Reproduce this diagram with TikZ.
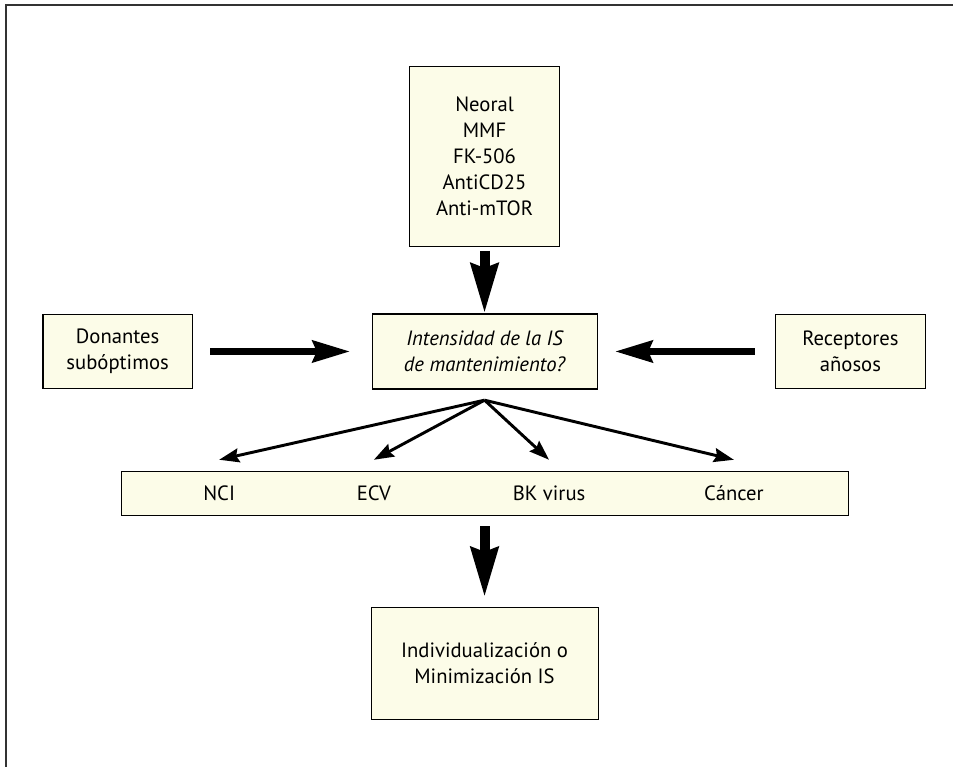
\documentclass[tikz,border=0pt]{standalone}
\usepackage{fontspec}
\setmainfont{PT Sans}
\usetikzlibrary{arrows.meta, positioning}
\definecolor{boxfill}{RGB}{252,252,232}
\tikzset{box/.style={rectangle,draw,fill=boxfill,line width=0.8pt,align=center,inner sep=2pt,font=\fontsize{15.5}{19.5}\selectfont},
  rowtext/.style={inner sep=0pt,minimum height=49.5pt,font=\fontsize{15.5}{19.5}\selectfont},
  bigline/.style={line width=7.5pt,-{Stealth[length=37pt,width=20pt,inset=3pt]}},
  sideline/.style={line width=5.5pt,-{Stealth[length=28pt,width=16pt,inset=3pt]}},
  fanline/.style={line width=2.2pt,-{Stealth[length=15pt,width=10.5pt,inset=2pt]}}}

\begin{document}
\begin{tikzpicture}
\useasboundingbox (0,0) rectangle (714.75pt,-575.25pt);
\draw[black!80,line width=1.5pt] (4.5pt,-575.25pt) -- (4.5pt,-3.75pt) -- (714.75pt,-3.75pt);
\node[box,minimum width=168.75pt,minimum height=56.25pt,font=\fontsize{15.5}{19.5}\itshape] (int) at (363.4pt,-263.6pt) {Intensidad de la IS\\de mantenimiento?};
\node[box,minimum width=112.5pt,minimum height=135pt,above=50pt of int] (meds) {Neoral\\MMF\\FK-506\\AntiCD25\\Anti-mTOR};
\node[box,minimum width=112pt,minimum height=55.5pt,left=134pt of int] (don) {Donantes\\subóptimos};
\node[box,minimum width=112.5pt,minimum height=55.5pt,right=133pt of int] (rec) {Receptores\\añosos};
\node[box,minimum width=545.25pt,minimum height=33pt,below=60.75pt of int] (row) {};
\node[rowtext] (nci) at ([xshift=-199pt]row.center) {NCI};
\node[rowtext] (ecv) at ([xshift=-83pt]row.center) {ECV};
\node[rowtext] (bk) at ([xshift=48.4pt]row.center) {BK virus};
\node[rowtext] (can) at ([xshift=187pt]row.center) {Cáncer};
\node[box,minimum width=170.25pt,minimum height=84pt,below=68.25pt of row] (ind) {Individualización o\\Minimización IS};
\coordinate (fan) at ([yshift=-8pt]int.south);
\draw[bigline,shorten <=3pt] (meds) -- (int);
\draw[sideline,shorten <=13pt,shorten >=16pt] (don) -- (int);
\draw[sideline,shorten <=15pt,shorten >=13pt] (rec) -- (int);
\draw[fanline] (fan) -- (nci.north);
\draw[fanline] (fan) -- (ecv.north);
\draw[fanline] (fan) -- (bk.north);
\draw[fanline] (fan) -- (can.north);
\draw[bigline,shorten <=8pt,shorten >=7pt] (row) -- (ind);
\end{tikzpicture}
\end{document}
